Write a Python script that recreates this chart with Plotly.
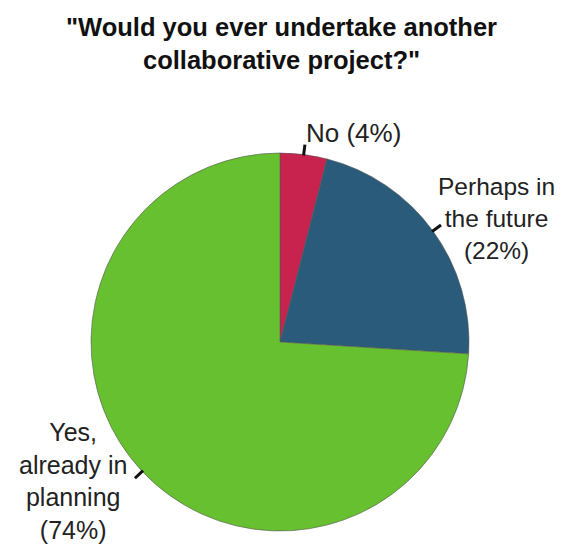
import math
import plotly.graph_objects as go

labels = ["No", "Perhaps in the future", "Yes, already in planning"]
label_text = ["No (4%)", "Perhaps in<br>the future<br>(22%)", "Yes,<br>already in<br>planning<br>(74%)"]
values = [4, 22, 74]
colors = ["#C8234F", "#2A5B7B", "#67C02F"]
title = '"Would you ever undertake another<br>collaborative project?"'

W, H = 576, 544
CX, CY, R = 280, 342, 189  # pie centre / radius in pixels

fig = go.Figure(go.Pie(
    labels=labels, values=values, sort=False, direction="clockwise", rotation=0,
    marker=dict(colors=colors, line=dict(color="#555555", width=0.6)),
    textinfo="none", hoverinfo="label+percent",
    domain=dict(x=[(CX - R) / W, (CX + R) / W], y=[1 - (CY + R) / H, 1 - (CY - R) / H]),
))

def px(x, y):
    return x / W, 1 - y / H

shapes = []
total = sum(values)
cum = 0
for v in values:
    mid = (cum + v / 2) / total * 2 * math.pi
    cum += v
    s, c = math.sin(mid), math.cos(mid)
    x0, y0 = px(CX + (R - 1) * s, CY - (R - 1) * c)
    x1, y1 = px(CX + (R + 10) * s, CY - (R + 10) * c)
    shapes.append(dict(type="line", xref="paper", yref="paper", x0=x0, y0=y0, x1=x1, y1=y1,
                       line=dict(color="#111111", width=3)))

family = "Liberation Sans, Arial, sans-serif"
label_pos = [(304, 133, "left", 26), (496, 218, "center", 24.5), (73, 481, "center", 25)]
annotations = []
for txt, (lx, ly, anchor, fs) in zip(label_text, label_pos):
    ax_, ay_ = px(lx, ly)
    annotations.append(dict(text=txt, x=ax_, y=ay_, xref="paper", yref="paper",
                            xanchor=anchor, yanchor="middle", align="center",
                            showarrow=False, font=dict(family=family, size=fs, color="#222222")))

tx, ty = px(281, 43)
annotations.append(dict(text="<b>" + title + "</b>", x=tx, y=ty, xref="paper", yref="paper",
                        xanchor="center", yanchor="middle", align="center", showarrow=False,
                        font=dict(family=family, size=25.5, color="#111111")))

fig.update_layout(
    width=W, height=H, margin=dict(l=0, r=0, t=0, b=0),
    paper_bgcolor="white", plot_bgcolor="white", showlegend=False,
    shapes=shapes, annotations=annotations,
)
fig.write_html("out.html")
